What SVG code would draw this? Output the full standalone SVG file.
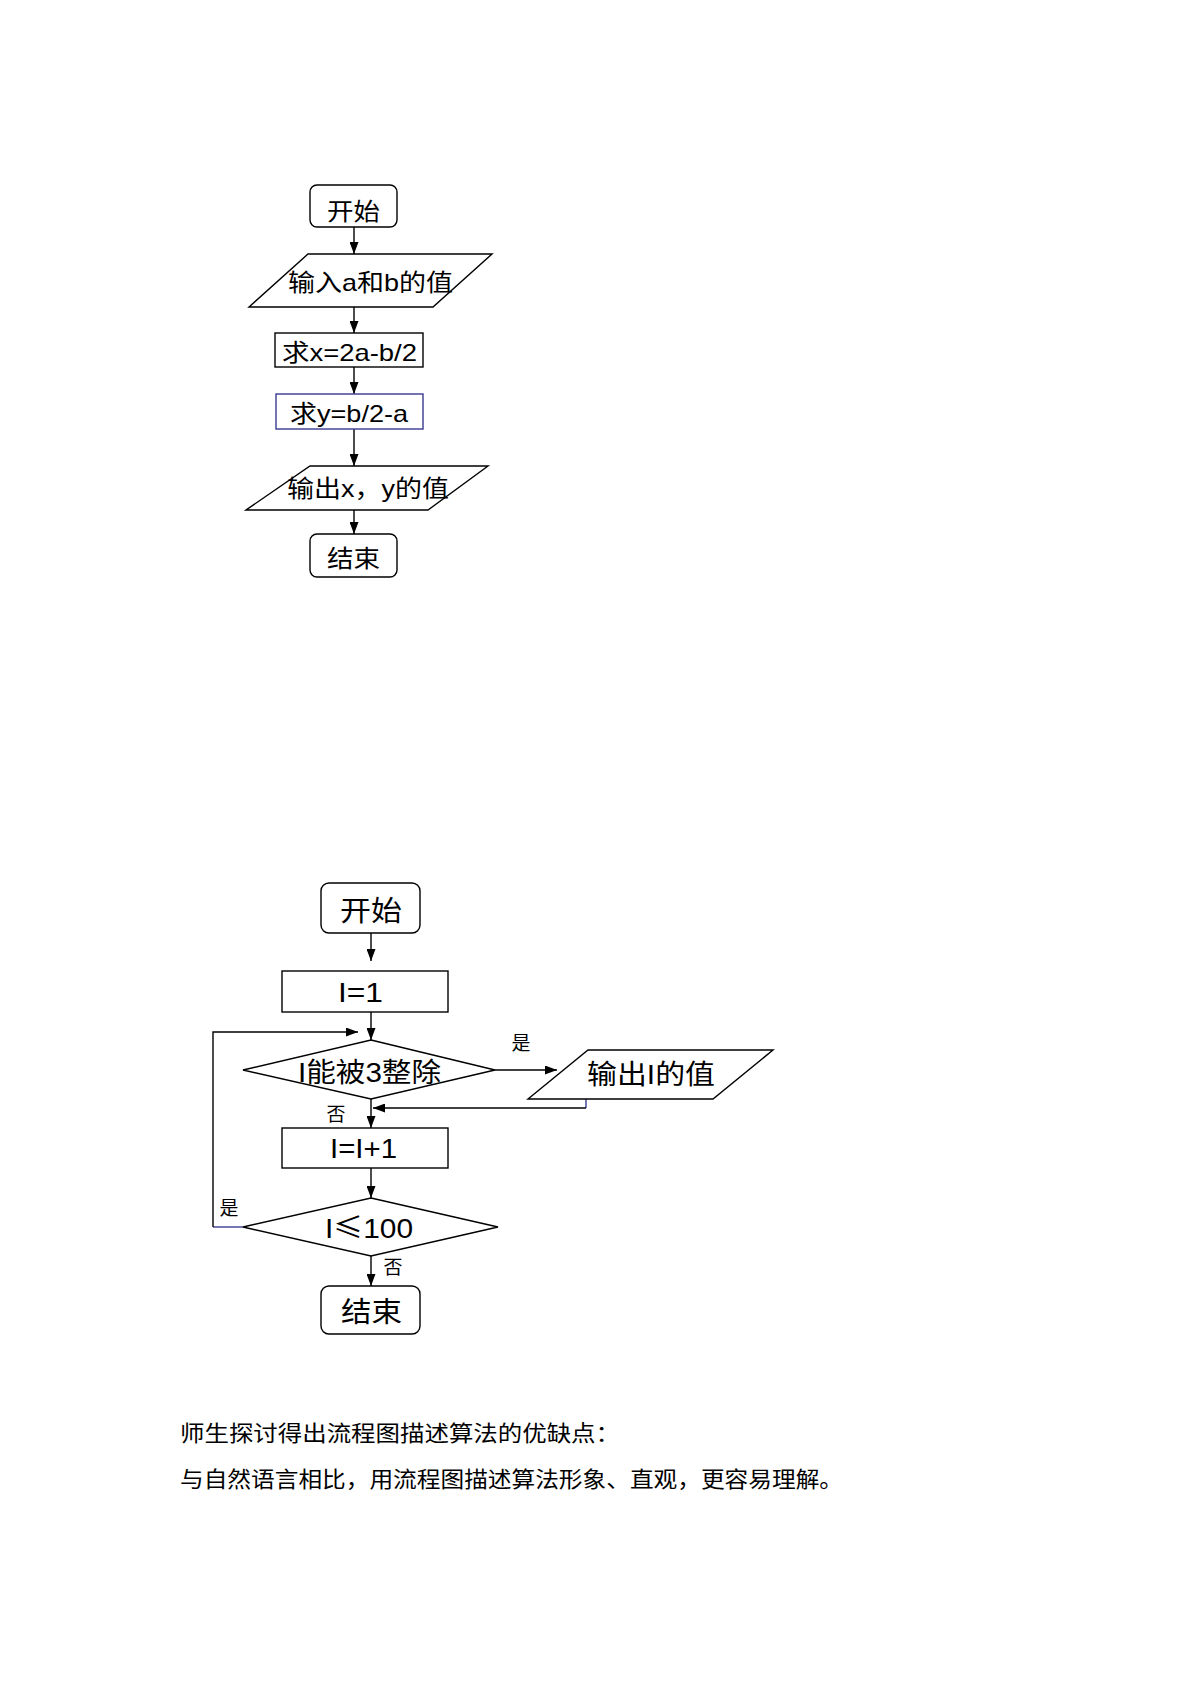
<svg xmlns="http://www.w3.org/2000/svg" width="1191" height="1684" viewBox="0 0 1191 1684">
<style>
.s{fill:#fff;stroke:#000;stroke-width:1.4}
.b{fill:#fff;stroke:#3a3a90;stroke-width:1.4}
.t{font-family:"Liberation Sans","Noto Sans CJK SC",sans-serif;fill:#000;text-anchor:start}
.c{font-family:"Liberation Sans","Noto Sans CJK SC",sans-serif;fill:#000;text-anchor:middle}
.l{fill:none;stroke:#000;stroke-width:1.4}
.lb{fill:none;stroke:#3a3a90;stroke-width:1.4}
.p{font-family:"Noto Sans CJK SC",sans-serif;fill:#000;font-size:22px}
.cjk{font-family:"Noto Sans CJK SC",sans-serif}
</style>
<defs>
<marker id="a" viewBox="0 0 12 9" refX="12" refY="4.5" markerWidth="12" markerHeight="9" markerUnits="userSpaceOnUse" orient="auto">
<path d="M0,0L12,4.5L0,9z" fill="#000"/>
</marker>
</defs>
<g id="connectors">
<line class="l" x1="354" y1="227" x2="354" y2="254" marker-end="url(#a)"/>
<line class="l" x1="354" y1="307" x2="354" y2="333" marker-end="url(#a)"/>
<line class="l" x1="354" y1="367" x2="354" y2="394" marker-end="url(#a)"/>
<line class="l" x1="354" y1="429" x2="354" y2="466" marker-end="url(#a)"/>
<line class="l" x1="354" y1="510" x2="354" y2="534" marker-end="url(#a)"/>
<line class="l" x1="371" y1="933" x2="371" y2="961" marker-end="url(#a)"/>
<line class="l" x1="371" y1="1012" x2="371" y2="1040" marker-end="url(#a)"/>
<line class="l" x1="495" y1="1070" x2="557" y2="1070" marker-end="url(#a)"/>
<polyline class="lb" points="586,1099 586,1108"/>
<line class="l" x1="586" y1="1108" x2="373" y2="1108" marker-end="url(#a)"/>
<line class="l" x1="371" y1="1099" x2="371" y2="1128" marker-end="url(#a)"/>
<line class="l" x1="371" y1="1168" x2="371" y2="1198" marker-end="url(#a)"/>
<line class="l" x1="371" y1="1256" x2="371" y2="1286" marker-end="url(#a)"/>
<polyline class="lb" points="243,1227 213,1227"/>
<polyline class="l" points="213,1227 213,1032 358,1032" marker-end="url(#a)"/>
<text class="c" x="521" y="1050" font-size="19">是</text>
<text class="c" x="336" y="1121" font-size="19">否</text>
<text class="c" x="229" y="1215" font-size="19">是</text>
<text class="c" x="393" y="1274" font-size="19">否</text>
</g>
<g id="start1">
<rect class="s" x="310" y="185" width="87" height="42" rx="7"/>
<text class="t" x="327" y="220" font-size="24" textLength="53" lengthAdjust="spacingAndGlyphs">开始</text>
</g>
<g id="input1">
<polygon class="s" points="308,254 492,254 433,307 249,307"/>
<text class="t" x="288" y="291" font-size="24" textLength="165" lengthAdjust="spacingAndGlyphs">输入a和b的值</text>
</g>
<g id="calcx">
<rect class="s" x="275" y="333" width="148" height="34"/>
<text class="t" x="282" y="361" font-size="24" textLength="135" lengthAdjust="spacingAndGlyphs">求x=2a-b/2</text>
</g>
<g id="calcy">
<rect class="b" x="276" y="394" width="147" height="35"/>
<text class="t" x="290" y="422" font-size="24" textLength="118" lengthAdjust="spacingAndGlyphs">求y=b/2-a</text>
</g>
<g id="output1">
<polygon class="s" points="310,466 488,466 428,510 246,510"/>
<text class="t" x="287" y="497" font-size="24" textLength="162" lengthAdjust="spacingAndGlyphs">输出x，y的值</text>
</g>
<g id="end1">
<rect class="s" x="310" y="534" width="87" height="43" rx="7"/>
<text class="t" x="327" y="567" font-size="24" textLength="53" lengthAdjust="spacingAndGlyphs">结束</text>
</g>
<g id="start2">
<rect class="s" x="321" y="883" width="99" height="50" rx="8"/>
<text class="t" x="340" y="921" font-size="28" textLength="62" lengthAdjust="spacingAndGlyphs">开始</text>
</g>
<g id="init">
<rect class="s" x="282" y="971" width="166" height="41"/>
<text class="t" x="338" y="1002" font-size="28" textLength="45" lengthAdjust="spacingAndGlyphs">I=1</text>
</g>
<g id="cond1">
<polygon class="s" points="371,1040 495,1070 371,1099 243,1070"/>
<text class="t" x="298" y="1082" font-size="27" textLength="143" lengthAdjust="spacingAndGlyphs">I能被3整除</text>
</g>
<g id="output2">
<polygon class="s" points="588,1050 773,1050 713,1099 528,1099"/>
<text class="t" x="587" y="1084" font-size="27" textLength="128" lengthAdjust="spacingAndGlyphs">输出I的值</text>
</g>
<g id="incr">
<rect class="s" x="282" y="1128" width="166" height="40"/>
<text class="t" x="330" y="1158" font-size="28" textLength="67" lengthAdjust="spacingAndGlyphs">I=I+1</text>
</g>
<g id="cond2">
<polygon class="s" points="371,1198 498,1227 371,1256 243,1227"/>
<text class="t" x="325" y="1238" font-size="28" textLength="88" lengthAdjust="spacingAndGlyphs">I<tspan class="cjk">≤</tspan>100</text>
</g>
<g id="end2">
<rect class="s" x="321" y="1286" width="99" height="48" rx="8"/>
<text class="t" x="341" y="1322" font-size="28" textLength="61" lengthAdjust="spacingAndGlyphs">结束</text>
</g>
<g id="para">
<text class="p" x="180" y="1441" textLength="440" lengthAdjust="spacingAndGlyphs">师生探讨得出流程图描述算法的优缺点：</text>
<text class="p" x="180" y="1487" textLength="663" lengthAdjust="spacingAndGlyphs">与自然语言相比，用流程图描述算法形象、直观，更容易理解。</text>
</g>
</svg>
